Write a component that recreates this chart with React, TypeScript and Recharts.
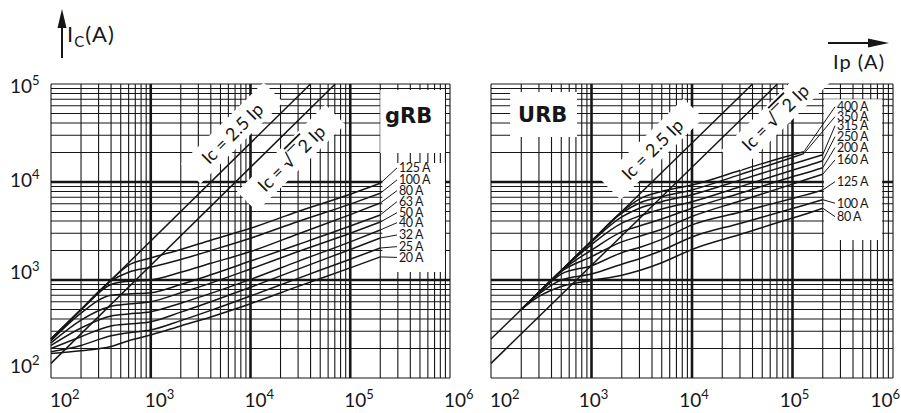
import React from 'react';
import {
  LineChart,
  Line,
  XAxis,
  YAxis,
  CartesianGrid,
  ReferenceArea,
  ReferenceLine,
  ReferenceDot,
} from 'recharts';

const FONT = 'Lato, "Open Sans", sans-serif';
const INK = '#161616';

// log axes: decades + the 2..9 minor lines between them
const DECADES_X = [100, 1000, 10000, 100000, 1000000];
const DECADES_Y = [100, 1000, 10000, 100000];
const MANTISSAS = [1, 2, 3, 4, 5, 6, 7, 8, 9];

const withMinors = (decades: number[]) => {
  const out: number[] = [];
  decades.forEach((d, i) => {
    if (i === decades.length - 1) out.push(d);
    else MANTISSAS.forEach((m) => out.push(m * d));
  });
  return out;
};
const X_TICKS = withMinors(DECADES_X);
const Y_TICKS = withMinors(DECADES_Y);

// Ic = 2.5 Ip and Ic = √2 Ip, up to the top of the frame
const IP_25 = [100, 40000];
const IC_25 = [250, 100000];
const IP_R2 = [100, 70700];
const IC_R2 = [141, 100000];

// gRB cut-off curves
const GRB_IP = [100, 200, 400, 600, 1000, 2000, 4000, 10000, 30000, 100000, 200000];
const GRB_RATINGS = ['125 A', '100 A', '80 A', '63 A', '50 A', '40 A', '32 A', '25 A', '20 A'];
const GRB_125 = [250, 500, 1000, 1420, 1680, 2050, 2550, 3370, 5000, 7500, 9700];
const GRB_100 = [250, 500, 980, 1200, 1350, 1620, 2000, 2670, 3950, 5950, 7670];
const GRB_80 = [248, 495, 900, 970, 1000, 1200, 1480, 1950, 2950, 4650, 6100];
const GRB_63 = [240, 460, 700, 720, 740, 900, 1130, 1560, 2300, 3550, 4610];
const GRB_50 = [228, 390, 540, 570, 600, 740, 930, 1295, 1950, 3000, 3900];
const GRB_40 = [215, 324, 430, 450, 475, 580, 730, 1015, 1550, 2450, 3240];
const GRB_32 = [200, 264, 340, 355, 375, 470, 600, 842, 1290, 2050, 2680];
const GRB_25 = [185, 215, 270, 290, 309, 385, 490, 687, 1040, 1630, 2120];
const GRB_20 = [178, 190, 210, 240, 275, 340, 420, 573, 860, 1330, 1720];
const GRB_LABEL_IC = [13900, 10500, 8150, 6300, 4860, 3840, 2880, 2190, 1700];

// URB cut-off curves
const URB_IP = [100, 200, 300, 500, 1000, 2000, 3000, 5000, 10000, 30000, 100000, 130000, 200000];
const URB_RATINGS = ['400 A', '350 A', '315 A', '250 A', '200 A', '160 A', '125 A', '100 A', '80 A'];
const URB_400 = [null, 500, 750, 1250, 2500, 4950, 6700, 8000, 9300, 13100, 19000, 20400, null];
const URB_350 = [null, 500, 750, 1250, 2500, 4800, 6100, 7100, 8300, 11900, 17800, 19500, null];
const URB_315 = [null, 500, 750, 1250, 2450, 4400, 5400, 6300, 7400, 10450, 15300, 16600, 19000];
const URB_250 = [null, 500, 750, 1250, 2300, 3800, 4500, 5300, 6300, 8950, 13200, 14300, 16500];
const URB_200 = [null, 500, 750, 1240, 2020, 3100, 3550, 4200, 5400, 7670, 11300, 12200, 14000];
const URB_160 = [null, 500, 750, 1220, 1730, 2450, 2800, 3300, 4450, 6400, 9520, 10400, 12000];
const URB_125 = [null, 500, 740, 1150, 1400, 1900, 2150, 2600, 3650, 4920, 6800, 7300, 8300];
const URB_100 = [null, 500, 720, 1000, 1150, 1450, 1650, 2000, 2750, 3780, 5360, 5800, 6600];
const URB_80 = [null, 500, 680, 860, 990, 1120, 1250, 1500, 2050, 2910, 4290, 4650, 5400];
const URB_LABEL_IC = [58600, 46400, 37500, 29000, 22500, 16800, 10070, 6070, 4430];

type Box = { x1: number; x2: number; y1: number; y2: number };
type Slanted = { ip: number; ic: number; width: number; root: boolean };

const series = (ip: number[], values: (number | null)[]) =>
  ip.map((x, i) => ({ ip: x, ic: values[i] })).filter((d) => d.ic != null);

const powerOf = (v: number) => {
  const e = Math.round(Math.log10(v));
  return Math.abs(v - Math.pow(10, e)) < 1e-6 * v ? e : null;
};

const Y_NUDGE: Record<number, number> = { 5: 9, 4: 5, 3: -1, 2: -5 };

function YTick(props: any) {
  const e = powerOf(props.payload.value);
  if (e === null) return null;
  return (
    <text x={10} y={props.y + Y_NUDGE[e]} fontFamily={FONT} fontSize={19} fill={INK}>
      10<tspan dy={-8} fontSize={13}>{e}</tspan>
    </text>
  );
}

function XTick(props: any) {
  const { x, payload, centred } = props;
  const e = powerOf(payload.value);
  if (e === null) return null;
  let anchor = 'start';
  let tx = x - 6;
  if (e === 2) tx = x - 1;
  else if (centred && e === 6) {
    // last label of the right panel sits against the page edge
    anchor = 'end';
    tx = x + 7;
  } else if (centred) {
    anchor = 'middle';
    tx = x + 2;
  }
  return (
    <text x={tx} y={407} textAnchor={anchor} fontFamily={FONT} fontSize={19} fill={INK}>
      10<tspan dy={-8} fontSize={13}>{e}</tspan>
    </text>
  );
}

interface PanelProps {
  left: number;
  width: number;
  marginLeft: number;
  marginRight: number;
  yAxisWidth: number;
  ip: number[];
  curves: (number | null)[][];
  ratings: string[];
  labelIc: number[];
  leaderIp: number;
  boxes: Box[];
  tag: { text: string; ip: number; ic: number };
  slanted: Slanted[];
  centredTicks: boolean;
}

const TOP = 84;
const PLOT_H = 294;

function Panel(p: PanelProps) {
  const plotX0 = p.marginLeft + p.yAxisWidth;
  const plotW = p.width - p.marginRight - plotX0;
  const near = (a: number, b: number) => Math.abs(a - b) < 0.8;
  const isDecadeX = (x: number) => [1, 2, 3].some((k) => near(x, plotX0 + (k * plotW) / 4));
  const isDecadeY = (y: number) => [1, 2].some((k) => near(y, TOP + (k * PLOT_H) / 3));

  const vLine = (g: any) => (
    <line x1={g.x1} y1={g.y1} x2={g.x2} y2={g.y2} stroke={INK} strokeWidth={isDecadeX(g.x1) ? 2.6 : 1.1} />
  );
  const hLine = (g: any) => (
    <line x1={g.x1} y1={g.y1} x2={g.x2} y2={g.y2} stroke={INK} strokeWidth={isDecadeY(g.y1) ? 2.6 : 1.1} />
  );

  const curveData = p.curves.map((c) => series(p.ip, c));

  return (
    <div style={{ position: 'absolute', left: p.left, top: 0, width: p.width, height: 413 }}>
      <LineChart
        width={p.width}
        height={413}
        margin={{ top: TOP, right: p.marginRight, bottom: 0, left: p.marginLeft }}
      >
        <CartesianGrid horizontal={hLine} vertical={vLine} stroke={INK} />
        <XAxis
          dataKey="ip"
          type="number"
          scale="log"
          domain={[100, 1000000]}
          ticks={X_TICKS}
          interval={0}
          height={35}
          axisLine={false}
          tickLine={false}
          tick={(t: any) => <XTick {...t} centred={p.centredTicks} />}
        />
        {p.yAxisWidth > 0 ? (
          <YAxis
            type="number"
            scale="log"
            domain={[100, 100000]}
            ticks={Y_TICKS}
            interval={0}
            width={p.yAxisWidth}
            axisLine={false}
            tickLine={false}
            tick={(t: any) => <YTick {...t} />}
          />
        ) : (
          <YAxis type="number" scale="log" domain={[100, 100000]} ticks={Y_TICKS} interval={0} hide />
        )}

        {p.boxes.map((b, i) => (
          <ReferenceArea key={`box-${i}`} {...b} fill="#fff" fillOpacity={1} stroke="none" />
        ))}

        <Line
          data={series(IP_25, IC_25)}
          dataKey="ic"
          type="linear"
          dot={false}
          stroke={INK}
          strokeWidth={1.5}
          isAnimationActive={false}
        />
        <Line
          data={series(IP_R2, IC_R2)}
          dataKey="ic"
          type="linear"
          dot={false}
          stroke={INK}
          strokeWidth={1.5}
          isAnimationActive={false}
        />
        {curveData.map((d, i) => (
          <Line
            key={p.ratings[i]}
            data={d}
            dataKey="ic"
            type="monotone"
            dot={false}
            stroke={INK}
            strokeWidth={1.5}
            isAnimationActive={false}
          />
        ))}

        {curveData.map((d, i) => {
          const end = d[d.length - 1];
          return (
            <ReferenceLine
              key={`lead-${i}`}
              segment={[
                { x: end.ip, y: end.ic as number },
                { x: p.leaderIp, y: p.labelIc[i] },
              ]}
              stroke={INK}
              strokeWidth={1}
            />
          );
        })}

        {p.ratings.map((r, i) => (
          <ReferenceDot
            key={`lab-${r}`}
            x={p.leaderIp}
            y={p.labelIc[i]}
            r={0}
            shape={(s: any) => (
              <text
                x={s.cx + 2}
                y={s.cy}
                dominantBaseline="central"
                fontFamily={FONT}
                fontSize={12.5}
                letterSpacing={-0.4}
                fill={INK}
              >
                {r}
              </text>
            )}
          />
        ))}

        {p.slanted.map((s, i) => (
          <ReferenceDot
            key={`slant-${i}`}
            x={s.ip}
            y={s.ic}
            r={0}
            shape={(d: any) => (
              <g transform={`translate(${d.cx},${d.cy}) rotate(-44.5)`}>
                <rect x={-s.width / 2} y={-14} width={s.width} height={28} fill="#fff" />
                <text
                  textAnchor="middle"
                  dominantBaseline="central"
                  fontFamily={FONT}
                  fontSize={18}
                  fill={INK}
                >
                  {s.root ? (
                    <>
                      Ic = √<tspan textDecoration="overline">‾2</tspan> Ip
                    </>
                  ) : (
                    'Ic = 2.5  Ip'
                  )}
                </text>
              </g>
            )}
          />
        ))}

        <ReferenceDot
          x={p.tag.ip}
          y={p.tag.ic}
          r={0}
          shape={(d: any) => (
            <text x={d.cx} y={d.cy} fontFamily='"DejaVu Sans", sans-serif' fontWeight={700} fontSize={21} fill={INK}>
              {p.tag.text}
            </text>
          )}
        />
      </LineChart>
    </div>
  );
}

export default function App() {
  return (
    <div
      style={{
        position: 'absolute',
        left: 0,
        top: 0,
        width: 901,
        height: 413,
        background: '#fff',
        overflow: 'hidden',
      }}
    >
      <Panel
        left={0}
        width={485}
        marginLeft={0}
        marginRight={35}
        yAxisWidth={51}
        ip={GRB_IP}
        curves={[GRB_125, GRB_100, GRB_80, GRB_63, GRB_50, GRB_40, GRB_32, GRB_25, GRB_20]}
        ratings={GRB_RATINGS}
        labelIc={GRB_LABEL_IC}
        leaderIp={294000}
        boxes={[
          { x1: 200000, x2: 890000, y1: 19800, y2: 87000 },
          { x1: 210000, x2: 890000, y1: 1210, y2: 15600 },
        ]}
        tag={{ text: 'gRB', ip: 223000, ic: 40000 }}
        slanted={[
          { ip: 6530, ic: 31600, width: 116, root: false },
          { ip: 25500, ic: 17600, width: 124, root: true },
        ]}
        centredTicks={false}
      />
      <Panel
        left={460}
        width={441}
        marginLeft={31}
        marginRight={8}
        yAxisWidth={0}
        ip={URB_IP}
        curves={[URB_400, URB_350, URB_315, URB_250, URB_200, URB_160, URB_125, URB_100, URB_80]}
        ratings={URB_RATINGS}
        labelIc={URB_LABEL_IC}
        leaderIp={265000}
        boxes={[
          { x1: 155, x2: 718, y1: 28800, y2: 82800 },
          { x1: 205000, x2: 780000, y1: 2560, y2: 70000 },
        ]}
        tag={{ text: 'URB', ip: 186, ic: 40900 }}
        slanted={[
          { ip: 4000, ic: 21700, width: 116, root: false },
          { ip: 67000, ic: 46000, width: 124, root: true },
        ]}
        centredTicks
      />
      <svg
        width={901}
        height={413}
        style={{ position: 'absolute', left: 0, top: 0, pointerEvents: 'none' }}
      >
        <line x1={62} y1={58} x2={62} y2={24} stroke={INK} strokeWidth={2} />
        <polygon points="62,9 57.5,28 66.5,28" fill={INK} />
        <text x={67} y={42} fontFamily={FONT} fontSize={22} fill={INK} letterSpacing={1}>
          I<tspan dy={5} fontSize={15}>C</tspan>
          <tspan dy={-5}>(A)</tspan>
        </text>
        <line x1={828} y1={43} x2={872} y2={43} stroke={INK} strokeWidth={2} />
        <polygon points="889,43 868,38.5 868,47.5" fill={INK} />
        <text x={833} y={69} fontFamily={FONT} fontSize={20} fill={INK} letterSpacing={1}>
          Ip (A)
        </text>
      </svg>
    </div>
  );
}
